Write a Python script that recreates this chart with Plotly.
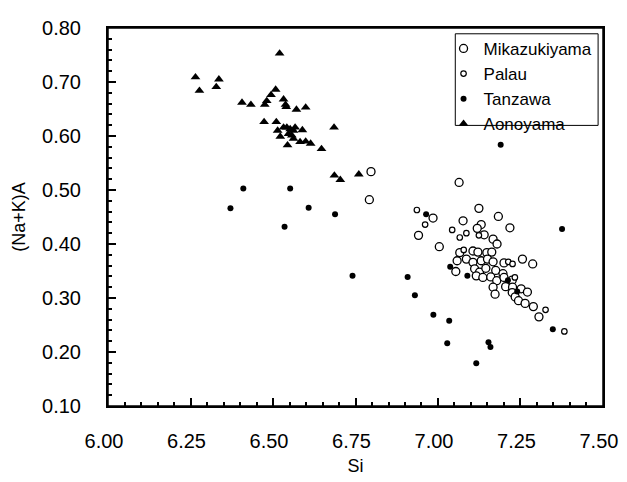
import plotly.graph_objects as go

# ---- data ----
mika_x = [6.797, 6.792, 6.985, 6.941, 7.004, 7.064, 7.124, 7.183, 7.076, 7.131,
          7.119, 7.218, 7.140, 7.167, 7.179, 7.066, 7.106, 7.121, 7.148, 7.163,
          7.058, 7.086, 7.106, 7.131, 7.150, 7.167, 7.200, 7.256, 7.287, 7.054,
          7.111, 7.126, 7.145, 7.175, 7.197, 7.116, 7.136, 7.160, 7.178, 7.200,
          7.225, 7.167, 7.205, 7.226, 7.252, 7.271, 7.173, 7.225, 7.234, 7.244,
          7.264, 7.289, 7.306]
mika_y = [0.534, 0.482, 0.448, 0.416, 0.395, 0.514, 0.466, 0.451, 0.443, 0.436,
          0.429, 0.430, 0.417, 0.409, 0.400, 0.384, 0.387, 0.385, 0.384, 0.385,
          0.369, 0.372, 0.366, 0.369, 0.372, 0.367, 0.365, 0.372, 0.363, 0.349,
          0.354, 0.348, 0.355, 0.351, 0.345, 0.341, 0.338, 0.339, 0.332, 0.338,
          0.333, 0.320, 0.321, 0.320, 0.317, 0.311, 0.307, 0.310, 0.302, 0.295,
          0.290, 0.284, 0.265]

palau_x = [6.936, 6.961, 7.043, 7.086, 7.066, 7.124, 7.078, 7.213, 7.226, 7.233,
           7.326, 7.383]
palau_y = [0.463, 0.436, 0.426, 0.420, 0.412, 0.416, 0.389, 0.367, 0.363, 0.338,
           0.278, 0.238]

tanz_x = [6.371, 6.410, 6.552, 6.535, 6.608, 6.688, 6.741, 6.908, 6.930, 6.964,
          6.986, 7.034, 7.028, 7.116, 7.153, 7.159, 7.037, 7.089, 7.212, 7.240,
          7.190, 7.376, 7.348]
tanz_y = [0.466, 0.503, 0.503, 0.432, 0.467, 0.455, 0.341, 0.339, 0.305, 0.455,
          0.269, 0.258, 0.216, 0.179, 0.218, 0.209, 0.358, 0.341, 0.333, 0.312,
          0.584, 0.428, 0.242]

aono_x = [6.265, 6.277, 6.336, 6.328, 6.520, 6.406, 6.433, 6.508, 6.494, 6.481,
          6.475, 6.532, 6.538, 6.540, 6.571, 6.599, 6.473, 6.510, 6.514, 6.522,
          6.532, 6.542, 6.552, 6.562, 6.567, 6.557, 6.547, 6.562, 6.589, 6.582,
          6.599, 6.614, 6.544, 6.647, 6.685, 6.686, 6.704, 6.760]
aono_y = [0.709, 0.684, 0.705, 0.691, 0.753, 0.662, 0.658, 0.686, 0.676, 0.665,
          0.658, 0.668, 0.658, 0.654, 0.649, 0.653, 0.626, 0.626, 0.610, 0.599,
          0.616, 0.616, 0.613, 0.610, 0.616, 0.601, 0.604, 0.595, 0.611, 0.589,
          0.590, 0.586, 0.583, 0.576, 0.616, 0.527, 0.519, 0.529]

FONT = "Liberation Sans, Arial, Helvetica, sans-serif"

fig = go.Figure()
fig.add_trace(go.Scatter(x=mika_x, y=mika_y, mode="markers", name="Mikazukiyama",
                         marker=dict(symbol="circle", size=8, color="white",
                                     line=dict(color="black", width=1.3))))
fig.add_trace(go.Scatter(x=palau_x, y=palau_y, mode="markers", name="Palau",
                         marker=dict(symbol="circle", size=5.5, color="white",
                                     line=dict(color="black", width=1.2))))
fig.add_trace(go.Scatter(x=tanz_x, y=tanz_y, mode="markers", name="Tanzawa",
                         marker=dict(symbol="circle", size=6, color="black",
                                     line=dict(width=0))))
fig.add_trace(go.Scatter(x=aono_x, y=aono_y, mode="markers", name="Aonoyama",
                         marker=dict(symbol="triangle-up", size=8.5, color="black",
                                     line=dict(width=0))))

axis_common = dict(
    showgrid=False, zeroline=False, showline=True, linecolor="black", linewidth=2,
    mirror=True, ticks="inside", ticklen=8, tickwidth=2,
    tickcolor="black", tickformat=".2f",
    tickfont=dict(family=FONT, size=20, color="black"),
)

fig.update_xaxes(**axis_common, range=[5.9999, 7.5001], dtick=0.25,
                 ticklabelstandoff=16, ticklabelshift=-4,
                 minor=dict(dtick=0.05, ticks="inside", ticklen=4, tickcolor="black"),
                 title=dict(text="Si", font=dict(family=FONT, size=18, color="black"),
                            standoff=8))
fig.update_yaxes(**axis_common, range=[0.0999, 0.8001], dtick=0.1,
                 ticklabelstandoff=21,
                 minor=dict(dtick=0.02, ticks="inside", ticklen=4, tickcolor="black"),
                 title=dict(text="(Na+K)A", font=dict(family=FONT, size=18, color="black"),
                            standoff=12))

# plot frame (guarantees the full box) and legend frame
fig.add_shape(type="rect", xref="paper", yref="paper", x0=0, x1=1, y0=0, y1=1,
              line=dict(color="black", width=1.5), fillcolor="rgba(0,0,0,0)",
              layer="above")
fig.add_shape(type="rect", xref="paper", yref="paper",
              x0=(459 - 104) / 506, x1=(605 - 104) / 506,
              y0=(409 - 118) / 392, y1=(409 - 23) / 392,
              line=dict(color="black", width=1), fillcolor="white", layer="above")

fig.update_layout(
    # the page's 8 px body margin is compensated by a slightly smaller figure
    width=619, height=474,
    margin=dict(l=96, r=17, t=9, b=73),
    paper_bgcolor="white", plot_bgcolor="white",
    font=dict(family=FONT, color="black"),
    legend=dict(x=(447 - 104) / 506, y=(409 - 20) / 392, xanchor="left", yanchor="top",
                bgcolor="rgba(0,0,0,0)", borderwidth=0,
                font=dict(family=FONT, size=17, color="black"),
                itemwidth=30, tracegroupgap=0),
    showlegend=True,
)

fig.write_html("out.html")
